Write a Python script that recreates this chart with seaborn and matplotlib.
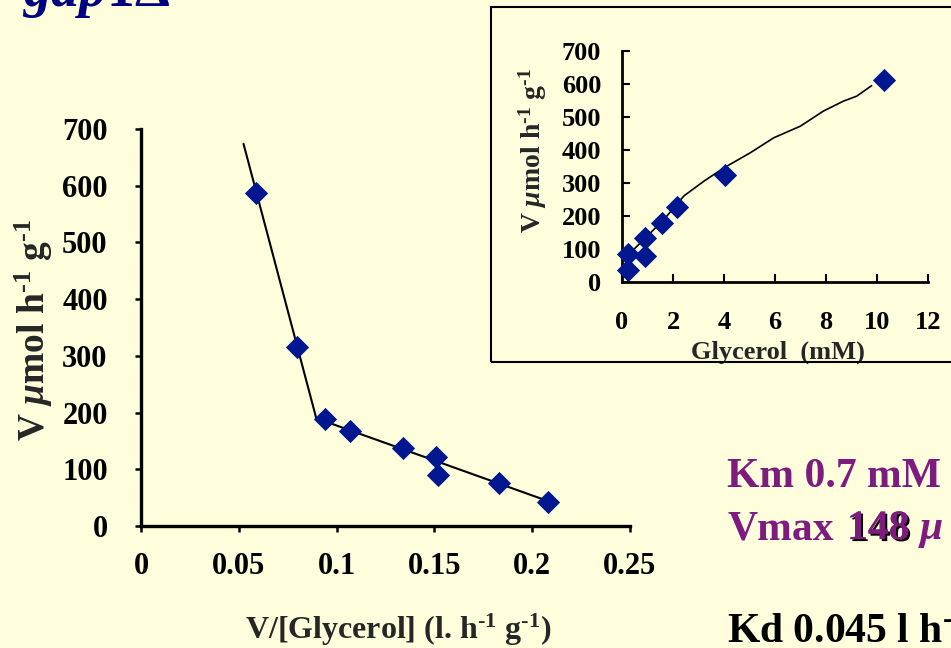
import matplotlib
matplotlib.use('Agg')
import matplotlib.pyplot as plt
import matplotlib.patheffects as pe
from matplotlib.patches import Rectangle
import seaborn as sns
import pandas as pd

# ---------------- data ----------------
# Main panel: Eadie-Hofstee plot, V vs V/[Glycerol]
eh_ratio = [0.059, 0.080, 0.094, 0.107, 0.134, 0.151, 0.152, 0.183, 0.208]
eh_v = [588, 315, 188, 168, 137, 122, 90, 76, 43]
# two fitted straight segments (polyline)
fit_ratio = [0.0524, 0.0896, 0.208]
fit_v = [674, 190, 44]
main_xticks = [0, 0.05, 0.1, 0.15, 0.2, 0.25]
main_xticklabels = ['0', '0.05', '0.1', '0.15', '0.2', '0.25']
v_ticks = [0, 100, 200, 300, 400, 500, 600, 700]

# Inset: V vs Glycerol (mM)
gly_mM = [0.25, 0.22, 0.90, 0.90, 1.55, 2.17, 4.05, 10.27]
gly_v = [36, 85, 80, 132, 178, 227, 323, 612]
curve_mM = [0.10, 0.48, 1.00, 1.65, 2.43, 3.22, 4.00, 5.04, 5.95, 6.99, 7.90, 8.68, 9.20, 9.79]
curve_v = [49, 100, 140, 190, 261, 306, 346, 392, 437, 472, 518, 548, 563, 595]
inset_xticks = [0, 2, 4, 6, 8, 10, 12]

BG = '#FFFEDC'
NAVY = '#00178F'
PURPLE = '#7D1B7E'

# ---------------- style ----------------
sns.set_style('ticks')
plt.rcParams['font.family'] = ['Liberation Serif', 'DejaVu Serif']
plt.rcParams['font.weight'] = 'bold'
plt.rcParams['axes.labelweight'] = 'bold'
plt.rcParams['mathtext.fontset'] = 'custom'
plt.rcParams['mathtext.rm'] = 'Liberation Serif:bold'
plt.rcParams['mathtext.bf'] = 'Liberation Serif:bold'
plt.rcParams['mathtext.it'] = 'Liberation Serif:italic:bold'
plt.rcParams['axes.unicode_minus'] = False

SUP = r'$^{\text{-1}}$'

fig = plt.figure(figsize=(9.51, 6.48), dpi=100, facecolor=BG)

# ---------------- main panel ----------------
ax = fig.add_axes([0.14827, 0.18827, 0.51419, 0.61266])
ax.set_facecolor(BG)
df_main = pd.DataFrame({'ratio': eh_ratio, 'v': eh_v})
df_fit = pd.DataFrame({'ratio': fit_ratio, 'v': fit_v})
sns.lineplot(data=df_fit, x='ratio', y='v', ax=ax, color='black', linewidth=1.5,
             sort=False, estimator=None, zorder=2)
sns.scatterplot(data=df_main, x='ratio', y='v', ax=ax, marker='D', s=140,
                color=NAVY, linewidth=0, zorder=3)
ax.set_xlim(0, 0.25)
ax.set_ylim(0, 700)
ax.set_xticks(main_xticks)
ax.set_xticklabels(main_xticklabels)
ax.set_yticks(v_ticks)
for s in ['top', 'right']:
    ax.spines[s].set_visible(False)
for s in ['left', 'bottom']:
    ax.spines[s].set_linewidth(2.4)
    ax.spines[s].set_color('black')
ax.tick_params(axis='both', direction='out', length=4, width=1.8, labelsize=22,
               colors='black')
ax.tick_params(axis='x', pad=15)
ax.tick_params(axis='y', pad=20)
for lab in ax.get_xticklabels() + ax.get_yticklabels():
    lab.set_fontweight('bold')
ax.set_xlabel('V/[Glycerol] (l. h' + SUP + ' g' + SUP + ')', fontsize=23, fontweight='bold')
ax.set_ylabel(r'V $\mu$mol h' + SUP + ' g' + SUP, fontsize=27, fontweight='bold')
ax.xaxis.set_label_coords(0.526, -0.262)
ax.xaxis.label.set_va('center')
ax.yaxis.set_label_coords(-0.219, 0.494)
ax.yaxis.label.set_va('center')

# ---------------- inset frame ----------------
fig.patches.append(Rectangle((491 / 951, 1 - 362 / 648), 0.6, (362 - 7) / 648,
                             transform=fig.transFigure, fill=False,
                             edgecolor='black', linewidth=1.5, zorder=0))

# ---------------- inset panel ----------------
axi = fig.add_axes([0.65405, 0.56481, 0.32177, 0.35649])
axi.set_facecolor(BG)
df_in = pd.DataFrame({'mM': gly_mM, 'v': gly_v})
df_curve = pd.DataFrame({'mM': curve_mM, 'v': curve_v})
sns.lineplot(data=df_curve, x='mM', y='v', ax=axi, color='black', linewidth=1.2,
             sort=False, estimator=None, zorder=2)
sns.scatterplot(data=df_in, x='mM', y='v', ax=axi, marker='D', s=140,
                color=NAVY, linewidth=0, zorder=3, clip_on=False)
axi.set_xlim(0, 12)
axi.set_ylim(0, 700)
axi.set_xticks(inset_xticks)
axi.set_yticks(v_ticks)
for s in ['top', 'right']:
    axi.spines[s].set_visible(False)
for s in ['left', 'bottom']:
    axi.spines[s].set_linewidth(2.0)
    axi.spines[s].set_color('black')
axi.tick_params(axis='both', direction='in', length=6, width=1.5, labelsize=19,
                colors='black')
axi.tick_params(axis='x', pad=21)
axi.tick_params(axis='y', pad=15)
for lab in axi.get_xticklabels() + axi.get_yticklabels():
    lab.set_fontweight('bold')
axi.set_xlabel('Glycerol  (mM)', fontsize=19, fontweight='bold')
axi.set_ylabel(r'V $\mu$mol h' + SUP + ' g' + SUP, fontsize=20, fontweight='bold')
axi.xaxis.set_label_coords(0.51, -0.303)
axi.xaxis.label.set_va('center')
axi.yaxis.set_label_coords(-0.291, 0.569)
axi.yaxis.label.set_va('center')

# ---------------- annotations ----------------
fig.text(22 / 951, 1 - 6 / 648, r'$gap1\Delta$', fontsize=40, color='#000080',
         va='baseline', ha='left')
fig.text(727 / 951, 1 - 487 / 648, 'Km 0.7 mM', fontsize=30, color=PURPLE,
         fontweight='bold', va='baseline', ha='left')
fig.text(727 / 951, 1 - 539 / 648, 'Vmax', fontsize=30, color=PURPLE,
         fontweight='bold', va='baseline', ha='left')
fig.text(847 / 951, 1 - 539 / 648, '148', fontsize=30, color=PURPLE,
         fontweight='bold', va='baseline', ha='left',
         path_effects=[pe.withSimplePatchShadow(offset=(1.5, -1.5),
                                                shadow_rgbFace='black', alpha=1.0),
                       pe.Normal()])
fig.text(918 / 951, 1 - 539 / 648, r'$\mu$', fontsize=30, color=PURPLE,
         va='baseline', ha='left')
fig.text(727 / 951, 1 - 642 / 648, r'Kd 0.045 l h$^{\text{-}}$', fontsize=30,
         color='black', fontweight='bold', va='baseline', ha='left')

fig.savefig('out.png', dpi=100, facecolor=BG)
